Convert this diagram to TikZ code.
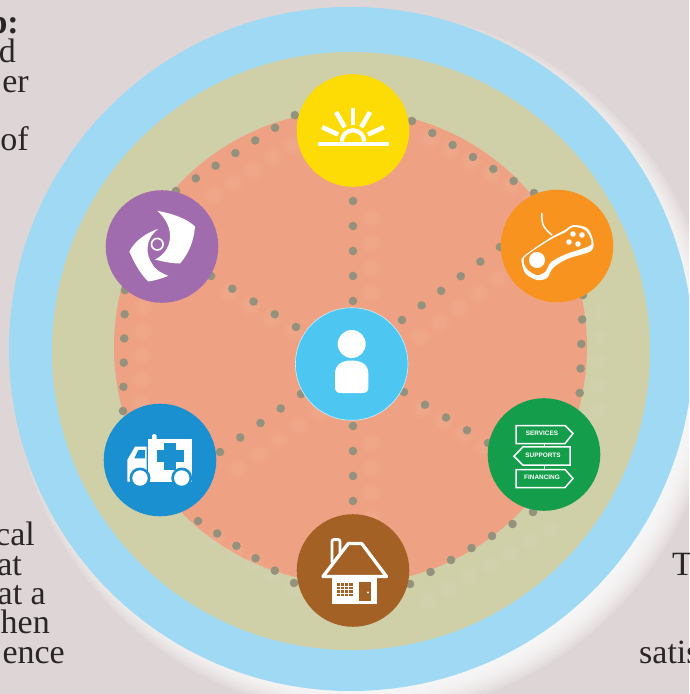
\documentclass[tikz,border=0pt]{standalone}
\usepackage{fontspec}
\setmainfont{Liberation Serif}
\newfontfamily\signfont{Liberation Sans}
\usetikzlibrary{calc}

\definecolor{wallc}{HTML}{DED6D6}
\definecolor{skyc}{HTML}{9FD9F3}
\definecolor{olivec}{HTML}{CFCFA8}
\definecolor{salmonc}{HTML}{EFA283}
\definecolor{dotc}{HTML}{94927C}
\definecolor{inkc}{HTML}{2B2626}
\definecolor{sunc}{HTML}{FDDB04}
\definecolor{gamec}{HTML}{F8931F}
\definecolor{signc}{HTML}{149E4B}
\definecolor{housec}{HTML}{A46125}
\definecolor{ambc}{HTML}{1B90D1}
\definecolor{swirlc}{HTML}{A16CAE}
\definecolor{hubc}{HTML}{4DC7F2}

\tikzset{
  disc/.style={circle,minimum size=112.6pt,inner sep=0pt},
  dotrow/.style={line cap=round,line width=8.6pt,draw=dotc,dash pattern=on 0pt off #1pt},
  palerow/.style={line cap=round,draw=white,dash pattern=on 0pt off #1pt},
  pagetext/.style={font=\fontsize{34}{34}\selectfont,text=inkc,inner sep=0pt},
  signtext/.style={font=\signfont\bfseries\fontsize{6.4}{7}\selectfont,text=white,inner sep=0pt},
  signbox/.style={draw=white,line width=1.5pt},
}

% each row: first dot / last dot / gap between the dots
\newcommand{\dotrows}{hexNEa/hexNEb/23.6,hexEa/hexEb/24.5,hexSEa/hexSEb/23.74,hexSWa/hexSWb/22.85,%
hexWa/hexWb/24.19,hexNWa/hexNWb/23.5,spokeNa/spokeNb/24.99,spokeSa/spokeSb/24.99,%
spokeNEa/spokeNEb/24.43,spokeSEa/spokeSEb/24.56,spokeSWa/spokeSWb/24.89,spokeNWa/spokeNWb/24.77}

\begin{document}
\begin{tikzpicture}[x=1pt,y=-1pt]
    \useasboundingbox (0,0) rectangle (689,694);
    \clip (0,0) rectangle (689,694);
    \fill[wallc] (0,0) rectangle (689,694);

    % Text left over from the page
    \node[pagetext,anchor=base east,font=\bfseries\fontsize{34}{34}\selectfont] (txtA) at (19,33) {p:};
    \node[pagetext,anchor=base east] (txtB) at (16,62) {d};
    \node[pagetext,anchor=base east] (txtC) at (29,92) {er};
    \node[pagetext,anchor=base east] (txtD) at (29,150) {of};
    \node[pagetext,anchor=base east] (txtE) at (35,545) {cal};
    \node[pagetext,anchor=base east] (txtF) at (22,575) {at};
    \node[pagetext,anchor=base east] (txtG) at (46,604) {at a};
    \node[pagetext,anchor=base east] (txtH) at (50,633) {hen};
    \node[pagetext,anchor=base east] (txtI) at (65,663) {ence};
    \node[pagetext,anchor=base west] (txtJ) at (672,575) {T};
    \node[pagetext,anchor=base west] (txtK) at (639,663) {satis};

    % White glow, lower right of the big circle
    \foreach \g in {0,3,...,30} {
        \fill[white,opacity=0.17] (365,363) circle({322+\g});
    }

    % The three rings
    \fill[skyc] (351,349) circle(342);
    \fill[olivec] (351,351) circle(299);
    \fill[salmonc] (350.5,347) circle(236.5);

    % First and last dot of each row
    \coordinate (hexNEa) at (412,121);   \coordinate (hexNEb) at (534,193);
    \coordinate (hexEa) at (583,295);    \coordinate (hexEb) at (579.7,393);
    \coordinate (hexSEa) at (533,512);   \coordinate (hexSEb) at (410,584);
    \coordinate (hexSWa) at (294,583);   \coordinate (hexSWb) at (198,521);
    \coordinate (hexWa) at (123,411);    \coordinate (hexWb) at (125,290);
    \coordinate (hexNWa) at (176,191);   \coordinate (hexNWb) at (295,115);
    \coordinate (spokeNa) at (353,201);  \coordinate (spokeNb) at (353,301);
    \coordinate (spokeSa) at (353,426);  \coordinate (spokeSb) at (353,501);
    \coordinate (spokeNEa) at (402,320); \coordinate (spokeNEb) at (500,247);
    \coordinate (spokeSEa) at (404,392); \coordinate (spokeSEb) at (488,443);
    \coordinate (spokeSWa) at (301,394); \coordinate (spokeSWb) at (220,452);
    \coordinate (spokeNWa) at (296,327); \coordinate (spokeNWb) at (211,276);

    % Pale copy of the dots, then the dots
    \foreach \a/\b/\gap in \dotrows {
        \draw[palerow=\gap,line width=20pt,opacity=0.025] ($(\a)+(18,17)$) -- ($(\b)+(18,17)$);
        \draw[palerow=\gap,line width=13pt,opacity=0.035] ($(\a)+(18,17)$) -- ($(\b)+(18,17)$);
    }
    \foreach \a/\b/\gap in \dotrows {
        \draw[dotrow=\gap] (\a) -- (\b);
    }

    % The discs
    \node[disc,fill=hubc,draw=white!70!hubc,line width=0.6pt] (hub) at (351.7,364) {};
    \node[disc,fill=sunc] (sun) at (353,130.5) {};
    \node[disc,fill=gamec] (game) at (557,246) {};
    \node[disc,fill=signc] (signs) at (544,454.5) {};
    \node[disc,fill=housec] (house) at (353,570.5) {};
    \node[disc,fill=ambc] (amb) at (160,460) {};
    \node[disc,fill=swirlc] (swirl) at (162,246.5) {};

    % Person
    \begin{scope}[shift={(hub)}]
        \fill[white] (0,-20) circle(14);
        \fill[white] (-16.7,23) -- (-16.7,10) .. controls (-16.7,0) and (-9,-3.5) .. (0,-3.5)
            .. controls (9,-3.5) and (16.7,0) .. (16.7,10) -- (16.7,23)
            .. controls (16.7,28) and (14,29) .. (10,29) -- (-10,29)
            .. controls (-14,29) and (-16.7,28) .. cycle;
    \end{scope}

    % Rising sun
    \begin{scope}[shift={(sun)}]
        \fill[white] (-35,11) rectangle (36,15.5);
        \draw[white,line width=4.2pt] (-11.2,11) arc(180:360:11.2);
        \foreach \t in {-155,-120,-90,-60,-25} {
            \draw[white,line width=4.6pt] ($(0,11)+(\t:16.5)$) -- ($(0,11)+(\t:34)$);
        }
    \end{scope}

    % Game pad
    \begin{scope}[shift={(game)}]
        \draw[white,line width=1.5pt] (-15,-33) .. controls (-16,-20) and (-12,-17) .. (-5,-11);
        \fill[white] plot[smooth cycle] coordinates {(-33,10) (-7,-8) (8,-16) (16,-21) (30,-18) (36,-6)
            (34,5) (10,13) (-4,22) (-10,32) (-20,34) (-31,28) (-35,18)};
        \fill[gamec] plot[smooth cycle] coordinates {(-31,10) (-7,-6) (9,-14) (16,-19) (28,-16) (34,-6)
            (32,0) (9,8) (-6,16) (-12,26) (-20,29) (-29,24) (-33,17)};
        \fill[white] (-20,14) circle(8);
        \foreach \x/\y in {16/-12,25/-11,12/-4,21/-2} {
            \fill[white] (\x,\y) circle(2.8);
        }
    \end{scope}

    % Sign post
    \begin{scope}[shift={(signs)}]
        \draw[white,line width=0.8pt] (0,-11) -- (0,-8) (0,11) -- (0,15);
        \draw[signbox] (-28,-29) -- (21,-29) -- (29,-21) -- (21,-11) -- (-28,-11) -- cycle;
        \draw[signbox] (26,-7.7) -- (-21,-7.7) -- (-30,1.7) -- (-21,10.7) -- (26,10.7) -- cycle;
        \draw[signbox] (-28,15) -- (21,15) -- (29,24) -- (21,33) -- (-28,33) -- cycle;
        \node[signtext] (signA) at (-2,-21) {SERVICES};
        \node[signtext] (signB) at (-1,1) {SUPPORTS};
        \node[signtext] (signC) at (-2,23) {FINANCING};
    \end{scope}

    % Little house
    \begin{scope}[shift={(house)}]
        \draw[white,line width=2.8pt,fill=housec,rounded corners=2pt] (-21,-8) -- (-21,-31) -- (-13,-31) -- (-13,-8);
        \fill[white] (-21,5.5) rectangle (24,33.5);
        \draw[white,line width=3.3pt,fill=housec,line join=round] (-30,6) -- (-4.7,-27) -- (8.7,-27) -- (33.5,6) -- cycle;
        \draw[white,line width=1.2pt,fill=housec] (5.3,11) rectangle (18.7,31);
        \fill[white] (15,22) circle(1.1);
        \fill[housec] (-16.5,12) rectangle (0,25);
        \foreach \x in {-12.5,-8.5,-4.5} {
            \draw[white,line width=0.7pt] (\x,12) -- (\x,25);
        }
        \foreach \y in {15.5,19,22.5} {
            \draw[white,line width=0.7pt] (-16.5,\y) -- (0,\y);
        }
    \end{scope}

    % Ambulance
    \begin{scope}[shift={(amb)}]
        \fill[white,rounded corners=1.5pt] (-8,-20) -- (-8,-26) -- (-3.5,-26) -- (-3.5,-20) -- cycle;
        \fill[white] (-12,-20.7) rectangle (32,21.7);
        \fill[white] (-32.7,21.7) -- (-32.7,0) -- (-25,-13.3) -- (-13.5,-13.3) -- (-13.5,21.7) -- cycle;
        \fill[ambc] (-25.7,-1.7) -- (-21.7,-10) -- (-14.8,-10) -- (-15.2,-1.7) -- cycle;
        \fill[ambc] (-2.7,-10) rectangle (23.7,1.7);
        \fill[ambc] (4.3,-17.3) rectangle (16,10);
        \fill[ambc] (-20,18) circle(10.5);
        \fill[ambc] (21.7,18) circle(10.5);
        \fill[ambc] (-33,22) rectangle (33,30);
        \fill[white] (-20,18) circle(7.7);
        \fill[white] (21.7,18) circle(7.7);
    \end{scope}

    % Swirl with a little figure
    \begin{scope}[shift={(swirl)}]
        \fill[white] (-4.7,-35.7) .. controls (10,-33) and (25,-28) .. (33,-20)
            .. controls (32,-5) and (26,8) .. (18,17)
            .. controls (10,17) and (0,15) .. (-7,13)
            .. controls (10,5) and (15,-18) .. cycle;
        \fill[white] (-3.7,-17.7) .. controls (-15,-14) and (-27,-6) .. (-32.7,5)
            .. controls (-28,16) and (-22,27) .. (-13.7,35)
            .. controls (-7,34) and (0,32) .. (6.3,29.3)
            .. controls (-2,26) and (-8,22) .. (-10,17)
            .. controls (-15,10) and (-19,-6) .. cycle;
        \draw[white,line width=1.6pt,fill=swirlc] (-4.7,-2.3) circle(5.8);
    \end{scope}
\end{tikzpicture}
\end{document}
